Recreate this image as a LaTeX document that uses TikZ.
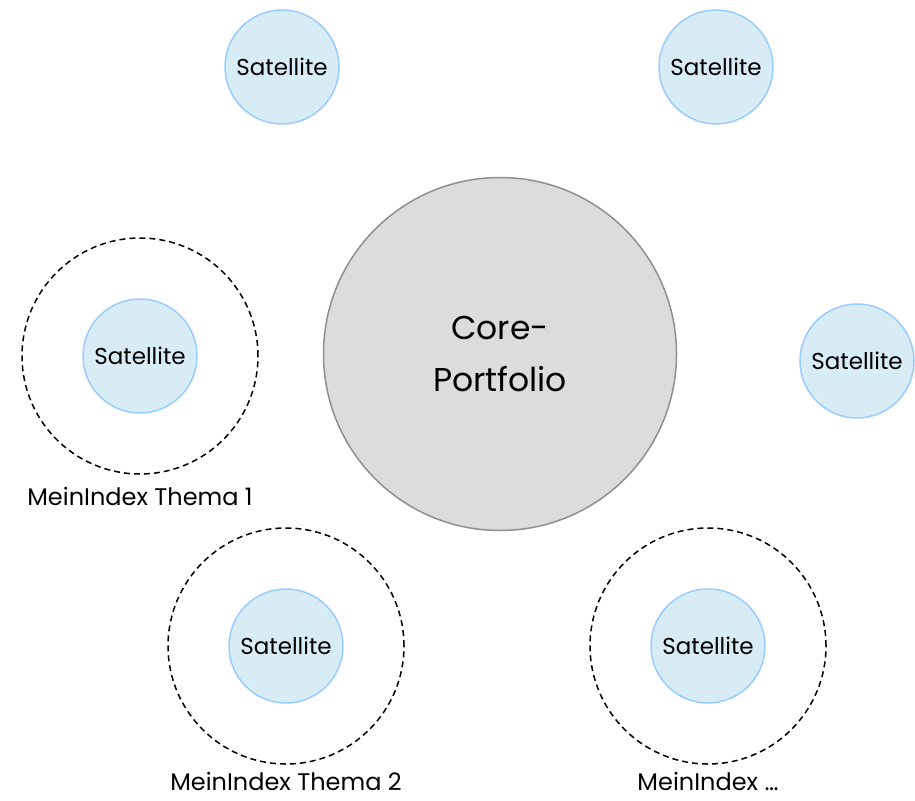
\documentclass[tikz,border=0pt]{standalone}
\usepackage{fontspec}
\setmainfont{Poppins}
\definecolor{satfill}{HTML}{D8ECF6}
\definecolor{satdraw}{HTML}{99CCFF}
\definecolor{corefill}{HTML}{DCDCDC}
\definecolor{coredraw}{HTML}{8F8F8F}
\begin{document}
\begin{tikzpicture}[x=1pt,y=-1pt,
  sat/.style={circle,draw=satdraw,fill=satfill,line width=1.5pt,minimum size=114pt,inner sep=0pt,font=\fontsize{23}{26}\selectfont},
  core/.style={circle,draw=coredraw,fill=corefill,line width=1.5pt,minimum size=353pt,inner sep=0pt,align=center,font=\fontsize{33}{52}\selectfont},
  orbit/.style={circle,draw=black,dash pattern=on 6pt off 4pt,line width=1.5pt,minimum size=236pt,inner sep=0pt},
  lbl/.style={font=\fontsize{24}{27}\selectfont,inner sep=0pt}]
\useasboundingbox (0,0) rectangle (915,800);
\node[core] (core) at (500,354) {Core-\\Portfolio};
\node[sat] (s1) at (282,67) {Satellite};
\node[sat] (s2) at (716,67) {Satellite};
\node[sat] (s3) at (857,361) {Satellite};
\node[orbit] (o1) at (140,356) {};
\node[sat] (s4) at (140,356) {Satellite};
\node[lbl] (l1) at (140,496) {MeinIndex Thema 1};
\node[orbit] (o2) at (286,646) {};
\node[sat] (s5) at (286,646) {Satellite};
\node[lbl] (l2) at (286,781) {MeinIndex Thema 2};
\node[orbit] (o3) at (708,646) {};
\node[sat] (s6) at (708,646) {Satellite};
\node[lbl] (l3) at (708,781) {MeinIndex \dots};
\end{tikzpicture}
\end{document}
